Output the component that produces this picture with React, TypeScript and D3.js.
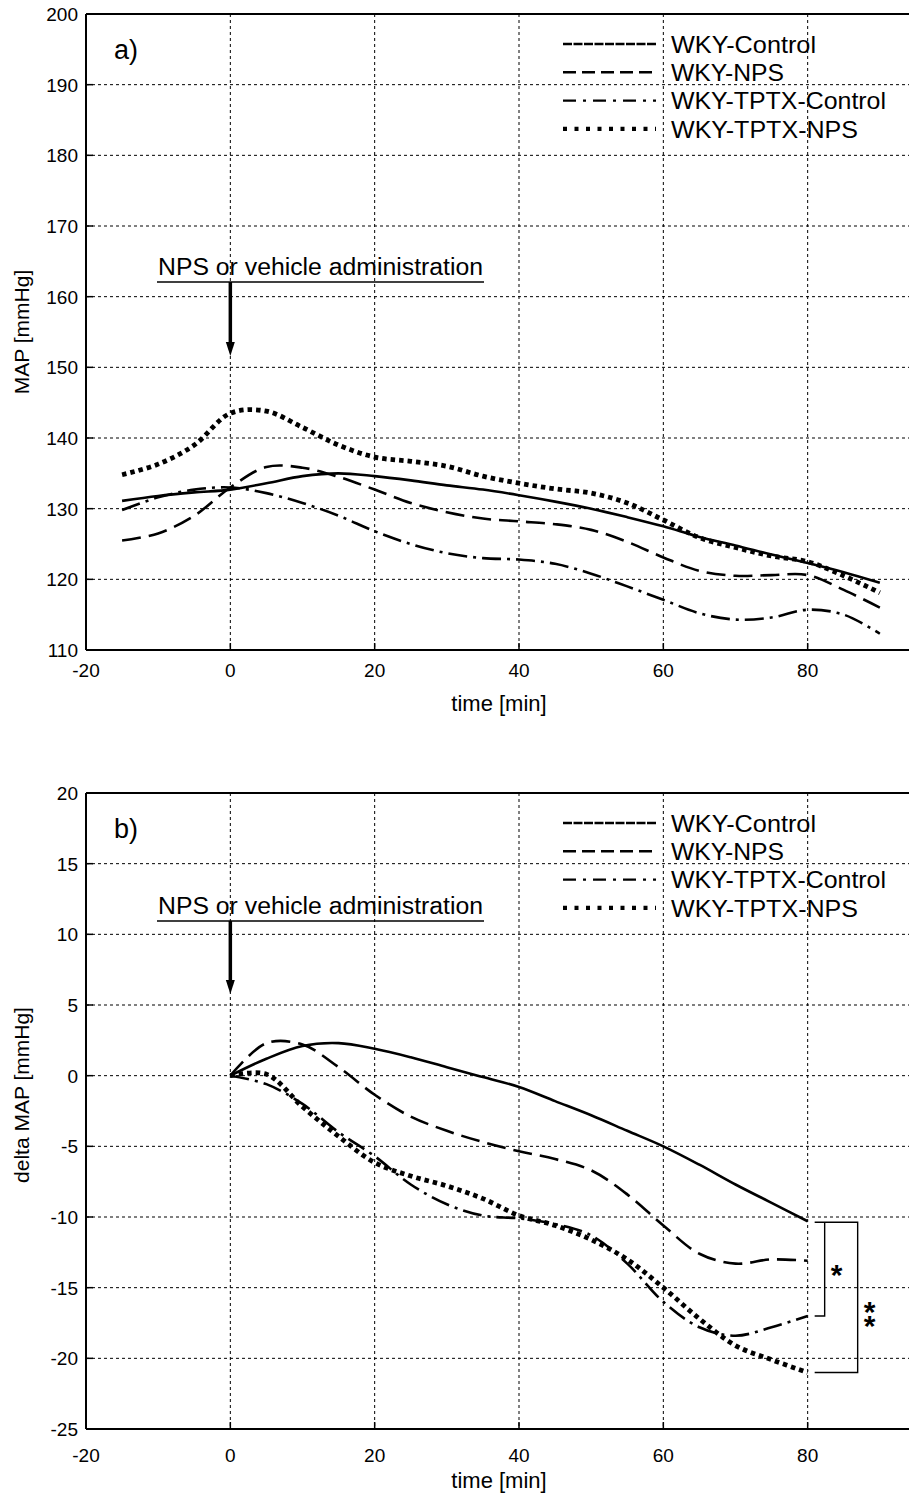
import React from "react";
import * as d3 from "d3";

// ---------- data ----------
const aTime = [-15, -10, -5, 0, 5, 10, 15, 20, 25, 30, 35, 40, 45, 50, 55, 60, 65, 70, 75, 80, 85, 90];
const aWkyControl = [131.1, 131.8, 132.3, 132.7, 133.6, 134.6, 135, 134.6, 134, 133.3, 132.7, 131.9, 131, 130, 128.8, 127.5, 126, 124.8, 123.5, 122.3, 121, 119.5];
const aWkyNps = [125.5, 126.5, 129, 133, 135.9, 135.8, 134.5, 132.7, 130.8, 129.5, 128.6, 128.2, 127.8, 127, 125.3, 123.1, 121.2, 120.5, 120.6, 120.6, 118.5, 116];
const aTptxControl = [129.8, 131.6, 132.7, 133, 132.2, 130.8, 129, 126.8, 125, 123.7, 123, 122.8, 122.2, 120.8, 119, 117.1, 115.2, 114.3, 114.6, 115.7, 115, 112.3];
const aTptxNps = [134.8, 136.3, 139, 143.5, 143.8, 141.5, 139, 137.3, 136.7, 136, 134.6, 133.6, 132.8, 132.2, 130.8, 128.4, 125.9, 124.5, 123.3, 122.5, 120.5, 118.1];

const bTime = [0, 5, 10, 15, 20, 25, 30, 35, 40, 45, 50, 55, 60, 65, 70, 75, 80];
const bWkyControl = [0, 1.2, 2.1, 2.3, 1.9, 1.3, 0.6, -0.1, -0.8, -1.8, -2.8, -3.9, -5, -6.3, -7.7, -9, -10.3];
const bWkyNps = [0, 2.3, 2.2, 0.6, -1.35, -2.9, -3.9, -4.7, -5.35, -5.9, -6.7, -8.4, -10.6, -12.6, -13.3, -13.0, -13.1];
const bTptxControl = [0, -0.6, -2, -4, -5.7, -7.7, -9.1, -9.9, -10.1, -10.5, -11.3, -13.3, -16, -17.8, -18.4, -17.8, -17.0];
const bTptxNps = [0, 0.1, -2.2, -4.3, -6.15, -7.1, -7.8, -8.7, -9.9, -10.6, -11.6, -13, -15, -17.2, -19.1, -20.1, -21.0];

const xTicks = [-20, 0, 20, 40, 60, 80];
const aYTicks = [110, 120, 130, 140, 150, 160, 170, 180, 190, 200];
const bYTicks = [-25, -20, -15, -10, -5, 0, 5, 10, 15, 20];

const seriesNames = ["WKY-Control", "WKY-NPS", "WKY-TPTX-Control", "WKY-TPTX-NPS"];
const legendWidths = [145, 113, 215, 187];

// ---------- styles ----------
const FONT = "'Liberation Sans', Arial, sans-serif";
const styles = [
  { dash: null, width: 2.6 },
  { dash: "19,8", width: 2.6 },
  { dash: "19,6,3,6", width: 2.6 },
  { dash: "4.5,4", width: 4.8 },
];
const legendStyles = [
  { dash: "9,1.5", width: 2.4 },
  { dash: "13,6", width: 2.4 },
  { dash: "13,7,3,7", width: 2.4 },
  { dash: "4,7.5", width: 4.2 },
];

const LEFT = 86;
const RIGHT = 952;

function Panel({ top, bottom, yDomain, yTicks, time, series, label, yTitle, yTitleY, xTitleY, tickLabelY, annotY, arrowTip, legendTop, brackets }) {
  const x = d3.scaleLinear().domain([-20, 100]).range([LEFT, RIGHT]);
  const y = d3.scaleLinear().domain(yDomain).range([bottom, top]);
  const line = d3.line<number>().x((d, i) => x(time[i])).y((d) => y(d)).curve(d3.curveCatmullRom.alpha(0.5));
  const gridX = [0, 20, 40, 60, 80, 100];
  return (
    <g>
      {/* grid */}
      {gridX.map((t) => (
        <line key={"gx" + t} x1={x(t)} x2={x(t)} y1={top} y2={bottom} stroke="#000" strokeWidth={1} strokeDasharray="3,3" />
      ))}
      {yTicks.slice(1, -1).map((v) => (
        <line key={"gy" + v} x1={LEFT} x2={909} y1={y(v)} y2={y(v)} stroke="#000" strokeWidth={1} strokeDasharray="3,3" />
      ))}
      {/* frame */}
      <line x1={LEFT} x2={909} y1={top} y2={top} stroke="#000" strokeWidth={2} />
      <line x1={LEFT} x2={909} y1={bottom} y2={bottom} stroke="#000" strokeWidth={2} />
      <line x1={LEFT} x2={LEFT} y1={top} y2={bottom} stroke="#000" strokeWidth={2} />
      {/* ticks */}
      {gridX.map((t) => (
        <line key={"tx" + t} x1={x(t)} x2={x(t)} y1={bottom} y2={bottom - 7} stroke="#000" strokeWidth={1.5} />
      ))}
      {yTicks.map((v) => (
        <line key={"ty" + v} x1={LEFT} x2={LEFT + 7} y1={y(v)} y2={y(v)} stroke="#000" strokeWidth={1.5} />
      ))}
      {/* tick labels */}
      {xTicks.map((t) => (
        <text key={"lx" + t} x={x(t)} y={tickLabelY} textAnchor="middle" fontFamily={FONT} fontSize={19}>{t}</text>
      ))}
      {yTicks.map((v) => (
        <text key={"ly" + v} x={78} y={y(v)} dy="0.36em" textAnchor="end" fontFamily={FONT} fontSize={19}>{v}</text>
      ))}
      {/* axis titles */}
      <text x={499} y={xTitleY} textAnchor="middle" fontFamily={FONT} fontSize={22}>time [min]</text>
      <text transform={`translate(29,${yTitleY}) rotate(-90)`} textAnchor="middle" fontFamily={FONT} fontSize={21}>{yTitle}</text>
      {/* panel label */}
      <text x={114} y={top + 45} fontFamily={FONT} fontSize={27}>{label}</text>
      {/* curves */}
      {series.map((s, i) => (
        <path key={"s" + i} d={line(s) || ""} fill="none" stroke="#000" strokeWidth={styles[i].width}
          strokeDasharray={styles[i].dash || undefined} strokeLinejoin="round" />
      ))}
      {/* legend */}
      {seriesNames.map((n, i) => {
        const ly = legendTop + i * 28.3;
        return (
          <g key={"lg" + i}>
            <line x1={563} x2={656} y1={ly} y2={ly} stroke="#000" strokeWidth={legendStyles[i].width}
              strokeDasharray={legendStyles[i].dash} />
            <text x={671} y={ly} dy="0.36em" fontFamily={FONT} fontSize={24} textLength={legendWidths[i]} lengthAdjust="spacingAndGlyphs">{n}</text>
          </g>
        );
      })}
      {/* annotation */}
      <text x={158} y={annotY} fontFamily={FONT} fontSize={23} textLength={325} lengthAdjust="spacingAndGlyphs">NPS or vehicle administration</text>
      <line x1={157} x2={484} y1={annotY + 7} y2={annotY + 7} stroke="#000" strokeWidth={1.5} />
      <line x1={x(0)} x2={x(0)} y1={annotY + 7} y2={arrowTip - 12} stroke="#000" strokeWidth={3.5} />
      <path d={`M${x(0) - 4.5},${arrowTip - 14} L${x(0) + 4.5},${arrowTip - 14} L${x(0)},${arrowTip} Z`} fill="#000" />
      {brackets && brackets(x, y)}
    </g>
  );
}

export default function App() {
  return (
    <svg width={909} height={1496} style={{ position: "absolute", left: 0, top: 0, background: "#fff" }}>
      <rect x={0} y={0} width={909} height={1496} fill="#fff" />
      <Panel top={14} bottom={650} yDomain={[110, 200]} yTicks={aYTicks} time={aTime}
        series={[aWkyControl, aWkyNps, aTptxControl, aTptxNps]} label="a)" yTitle="MAP [mmHg]" yTitleY={332}
        xTitleY={711} tickLabelY={677} annotY={275} arrowTip={356} legendTop={44} />
      <Panel top={793} bottom={1429} yDomain={[-25, 20]} yTicks={bYTicks} time={bTime}
        series={[bWkyControl, bWkyNps, bTptxControl, bTptxNps]} label="b)" yTitle="delta MAP [mmHg]" yTitleY={1095}
        xTitleY={1488} tickLabelY={1462} annotY={914} arrowTip={994} legendTop={823}
        brackets={(x, y) => {
          const xs = x(80);
          const yTop = y(bWkyControl[bWkyControl.length - 1]) + 1;
          const y1 = y(bTptxControl[bTptxControl.length - 1]);
          const y2 = y(bTptxNps[bTptxNps.length - 1]);
          const midB = (yTop + y2) / 2;
          return (
            <g stroke="#000" strokeWidth={1.4} fill="none">
              <path d={`M${xs + 7},${yTop} L${xs + 50},${yTop} L${xs + 50},${y2} L${xs + 7},${y2}`} />
              <path d={`M${xs + 7},${y1} L${xs + 17},${y1} L${xs + 17},${yTop}`} />
              <text x={xs + 29} y={(yTop + y1) / 2 + 16} textAnchor="middle" fontFamily={FONT} fontSize={30} fontWeight="bold" stroke="none" fill="#000">*</text>
              <text x={xs + 62} y={midB - 2} fontFamily={FONT} fontSize={30} fontWeight="bold" stroke="none" fill="#000"
                style={{ writingMode: "vertical-rl", textOrientation: "upright", letterSpacing: "-19px" } as any}>**</text>
            </g>
          );
        }} />
    </svg>
  );
}
